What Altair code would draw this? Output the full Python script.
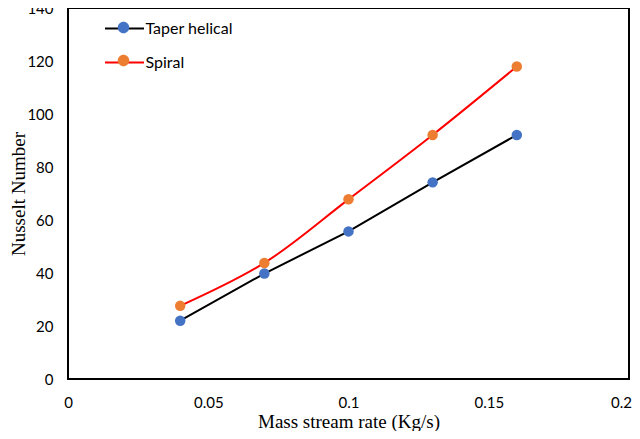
import altair as alt
import pandas as pd

# ---- data ----
mass_flow = [0.04, 0.07, 0.10, 0.13, 0.16]
taper_helical = [22.0, 39.8, 55.7, 74.2, 92.1]
spiral = [27.6, 43.8, 67.8, 92.1, 117.9]
series_names = ["Taper helical", "Spiral"]
x_ticks = [0, 0.05, 0.1, 0.15, 0.2]
y_ticks = [0, 20, 40, 60, 80, 100, 120, 140]

line_colors = ["#000000", "#FF0000"]
marker_colors = ["#4472C4", "#ED7D31"]

n = len(mass_flow)
df = pd.DataFrame({
    "x": mass_flow + mass_flow,
    "y": taper_helical + spiral,
    "series": [series_names[0]] * n + [series_names[1]] * n,
})
# separate key for the marker legend so it is not merged with the line legend
marker_keys = [s + " marker" for s in series_names]
df["marker"] = df["series"] + " marker"

TICK_FONT = "Lato"
TITLE_FONT = "Liberation Serif"

line_path = "M-1.95,0L1.95,0"
dot_path = "M-0.575,0A0.575,0.575,0,1,0,0.575,0A0.575,0.575,0,1,0,-0.575,0Z"

legend_common = dict(
    title=None, orient="none", legendX=45.5, legendY=9.5,
    symbolSize=400, labelFont=TICK_FONT, labelFontSize=16, labelFontWeight=400,
    labelOffset=10, rowPadding=15, padding=0,
)

x_enc = alt.X(
    "x:Q",
    scale=alt.Scale(domain=[0, 0.2], nice=False),
    axis=alt.Axis(
        values=x_ticks, format="~g", title="Mass stream rate (Kg/s)",
        grid=False, ticks=False, domain=False,
        labelFont=TICK_FONT, labelFontSize=15, labelColor="#000000", labelPadding=16,
        labelFlush=False, labelOverlap=False,
        labelOffset=alt.condition("datum.value >= 0.2", alt.value(-8), alt.value(0)),
        titleFont=TITLE_FONT, titleFontSize=19, titleFontWeight="normal", titleColor="#000000",
        titleBaseline="middle", titleY=42,
    ),
)
y_enc = alt.Y(
    "y:Q",
    scale=alt.Scale(domain=[0, 140], nice=False),
    axis=alt.Axis(
        values=y_ticks, title="Nusselt Number",
        grid=False, ticks=False, domain=False,
        labelFont=TICK_FONT, labelFontSize=15, labelColor="#000000", labelPadding=15,
        labelFlush=False, labelOverlap=False,
        titleFont=TITLE_FONT, titleFontSize=19, titleFontWeight="normal", titleColor="#000000",
        titleBaseline="middle", titleX=-50,
    ),
)

color_enc = alt.Color(
    "series:N",
    scale=alt.Scale(domain=series_names, range=line_colors),
    sort=series_names,
    legend=alt.Legend(symbolType=line_path, symbolStrokeWidth=2,
                      symbolFillColor="transparent", labelColor="#000000",
                      **legend_common),
)
fill_enc = alt.Fill(
    "marker:N",
    scale=alt.Scale(domain=marker_keys, range=marker_colors),
    sort=marker_keys,
    legend=alt.Legend(symbolType=dot_path, symbolStrokeWidth=0, symbolOpacity=1,
                      labelExpr="''", **legend_common),
)

base = alt.Chart(df)

taper_line = base.transform_filter(alt.datum.series == series_names[0]).mark_line(
    strokeWidth=2, interpolate="linear"
).encode(x=x_enc, y=y_enc, color=color_enc)

spiral_line = base.transform_filter(alt.datum.series == series_names[1]).mark_line(
    strokeWidth=2, interpolate="catmull-rom"
).encode(x=x_enc, y=y_enc, color=color_enc)

points = base.mark_circle(size=110, opacity=1).encode(x=x_enc, y=y_enc, fill=fill_enc)

chart = (
    alt.layer(taper_line, spiral_line, points)
    .properties(
        width=561, height=371,
        autosize=alt.AutoSizeParams(type="none"),
        padding={"left": 60, "top": 0, "right": 3, "bottom": 52},
        background="white",
    )
    .configure_view(stroke="#000000", strokeWidth=2)
)

chart.save("out.html", embed_options={"renderer": "svg", "actions": False})
